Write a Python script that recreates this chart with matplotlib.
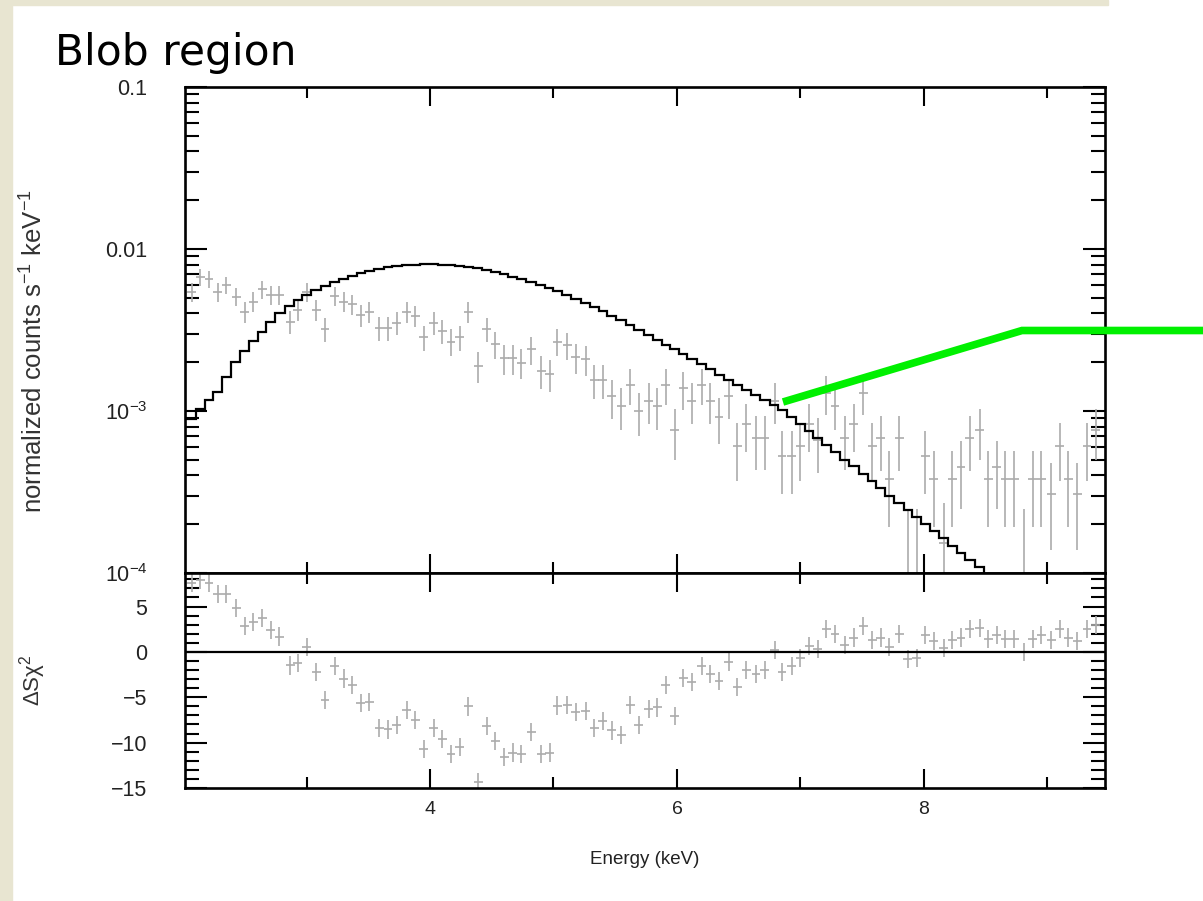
import numpy as np
import matplotlib.pyplot as plt
from matplotlib.lines import Line2D
from matplotlib.patches import Rectangle
from matplotlib.ticker import FixedLocator, FixedFormatter, MultipleLocator, LogLocator, NullFormatter

plt.rcParams['font.family'] = ['Liberation Sans', 'DejaVu Sans']
plt.rcParams['mathtext.fontset'] = 'custom'
plt.rcParams['mathtext.rm'] = 'Liberation Sans'
plt.rcParams['mathtext.it'] = 'Liberation Sans:italic'
plt.rcParams['mathtext.default'] = 'regular'

# bin centres (keV)
energy = [2.07, 2.14, 2.21, 2.28, 2.35, 2.43, 2.50, 2.57, 2.64, 2.71,
          2.78, 2.87, 2.93, 3.00, 3.08, 3.15, 3.23, 3.30, 3.37, 3.44,
          3.51, 3.59, 3.66, 3.73, 3.81, 3.88, 3.95, 4.03, 4.10, 4.17,
          4.24, 4.31, 4.39, 4.46, 4.53, 4.60, 4.67, 4.74, 4.82, 4.90,
          4.97, 5.03, 5.11, 5.18, 5.26, 5.33, 5.40, 5.47, 5.55, 5.62,
          5.69, 5.77, 5.84, 5.91, 5.98, 6.05, 6.12, 6.20, 6.27, 6.34,
          6.42, 6.49, 6.56, 6.64, 6.71, 6.79, 6.85, 6.93, 7.00, 7.07,
          7.14, 7.21, 7.28, 7.36, 7.43, 7.51, 7.58, 7.65, 7.72, 7.80,
          7.87, 7.94, 8.01, 8.08, 8.16, 8.23, 8.30, 8.37, 8.45, 8.52,
          8.59, 8.66, 8.73, 8.81, 8.88, 8.95, 9.03, 9.10, 9.17, 9.24,
          9.32, 9.39]

# normalized counts s^-1 keV^-1
counts = [5.45e-3, 6.75e-3, 6.50e-3, 5.45e-3, 6.00e-3, 5.08e-3, 4.10e-3, 4.73e-3, 5.64e-3, 5.20e-3,
          5.20e-3, 3.56e-3, 4.20e-3, 5.45e-3, 4.20e-3, 3.19e-3, 5.13e-3, 4.73e-3, 4.58e-3, 3.91e-3,
          4.10e-3, 3.27e-3, 3.27e-3, 3.51e-3, 4.10e-3, 3.86e-3, 2.85e-3, 3.51e-3, 3.13e-3, 2.68e-3,
          2.85e-3, 4.10e-3, 1.90e-3, 3.19e-3, 2.59e-3, 2.11e-3, 2.11e-3, 1.99e-3, 2.40e-3, 1.77e-3,
          1.69e-3, 2.68e-3, 2.56e-3, 2.15e-3, 2.08e-3, 1.55e-3, 1.55e-3, 1.23e-3, 1.07e-3, 1.45e-3,
          1.00e-3, 1.16e-3, 1.07e-3, 1.45e-3, 7.63e-4, 1.38e-3, 1.16e-3, 1.45e-3, 1.16e-3, 9.14e-4,
          1.23e-3, 6.08e-4, 8.31e-4, 6.84e-4, 6.84e-4, 1.16e-3, 5.30e-4, 5.30e-4, 6.08e-4, 8.31e-4,
          6.62e-4, 1.29e-3, 1.07e-3, 6.84e-4, 8.31e-4, 1.29e-3, 6.08e-4, 6.78e-4, 3.79e-4, 6.78e-4,
          4.0e-5, 5.0e-5, 5.28e-4, 3.79e-4, 1.53e-4, 3.79e-4, 4.53e-4, 6.78e-4, 7.63e-4, 3.79e-4,
          4.53e-4, 3.79e-4, 3.79e-4, 5.0e-5, 3.79e-4, 3.79e-4, 3.07e-4, 6.08e-4, 3.79e-4, 3.07e-4,
          6.08e-4, 7.63e-4]

# relative 1-sigma errors on counts
rel_err = [0.13, 0.12, 0.12, 0.13, 0.12, 0.13, 0.15, 0.14, 0.13, 0.13,
           0.13, 0.16, 0.15, 0.13, 0.15, 0.17, 0.13, 0.14, 0.14, 0.15,
           0.15, 0.17, 0.17, 0.16, 0.15, 0.15, 0.18, 0.16, 0.17, 0.19,
           0.18, 0.15, 0.22, 0.17, 0.19, 0.21, 0.21, 0.21, 0.20, 0.23,
           0.23, 0.19, 0.19, 0.21, 0.21, 0.24, 0.24, 0.27, 0.29, 0.25,
           0.30, 0.28, 0.29, 0.25, 0.35, 0.26, 0.28, 0.25, 0.28, 0.32,
           0.27, 0.39, 0.33, 0.37, 0.37, 0.28, 0.42, 0.42, 0.39, 0.33,
           0.37, 0.27, 0.29, 0.37, 0.33, 0.27, 0.39, 0.37, 0.49, 0.37,
           5.0, 4.0, 0.42, 0.49, 0.78, 0.49, 0.45, 0.37, 0.35, 0.49,
           0.45, 0.49, 0.49, 4.0, 0.49, 0.49, 0.55, 0.39, 0.49, 0.55,
           0.39, 0.35]

# folded model, one value per bin (first 90 bins, rest below 1e-4)
model = [8.93e-4, 1.029e-3, 1.169e-3, 1.310e-3, 1.622e-3, 2.007e-3, 2.347e-3, 2.705e-3, 3.074e-3, 3.543e-3,
         4.025e-3, 4.446e-3, 4.844e-3, 5.200e-3, 5.582e-3, 5.909e-3, 6.255e-3, 6.527e-3, 6.812e-3, 7.108e-3,
         7.313e-3, 7.523e-3, 7.742e-3, 7.853e-3, 7.965e-3, 8.02e-3, 8.04e-3, 8.04e-3, 8.02e-3, 7.965e-3,
         7.853e-3, 7.742e-3, 7.58e-3, 7.42e-3, 7.21e-3, 7.01e-3, 6.76e-3, 6.527e-3, 6.255e-3, 5.995e-3,
         5.745e-3, 5.505e-3, 5.200e-3, 4.913e-3, 4.642e-3, 4.385e-3, 4.143e-3, 3.885e-3, 3.645e-3, 3.395e-3,
         3.162e-3, 2.945e-3, 2.744e-3, 2.555e-3, 2.414e-3, 2.248e-3, 2.094e-3, 1.950e-3, 1.817e-3, 1.668e-3,
         1.553e-3, 1.447e-3, 1.348e-3, 1.256e-3, 1.169e-3, 1.089e-3, 1.014e-3, 9.18e-4, 8.31e-4, 7.52e-4,
         6.81e-4, 6.17e-4, 5.58e-4, 4.98e-4, 4.58e-4, 4.08e-4, 3.70e-4, 3.35e-4, 2.99e-4, 2.70e-4,
         2.45e-4, 2.22e-4, 2.01e-4, 1.82e-4, 1.64e-4, 1.47e-4, 1.33e-4, 1.20e-4, 1.09e-4, 9.7e-5]

# sign(data-model) * chi^2 contribution
resid = [7.57, 7.93, 7.64, 6.38, 6.38, 4.85, 2.86, 3.30, 3.77, 2.43,
         1.70, -1.49, -1.20, 0.51, -2.21, -5.29, -1.56, -2.93, -3.66, -5.65,
         -5.54, -8.37, -8.55, -8.01, -6.38, -7.47, -10.72, -8.37, -9.64, -11.27,
         -10.47, -6.01, -14.35, -8.19, -9.82, -11.56, -11.09, -11.27, -8.8, -11.27,
         -11.09, -5.91, -5.83, -6.63, -6.49, -8.37, -7.57, -8.66, -9.17, -5.83,
         -8.01, -6.27, -6.12, -3.66, -7.10, -2.86, -3.30, -1.56, -2.39, -3.22,
         -1.12, -3.84, -2.03, -2.39, -2.03, 0.25, -2.21, -1.56, -0.69, 0.62,
         0.33, 2.5, 1.96, 0.76, 1.59, 2.86, 1.30, 1.59, 0.51, 1.96,
         -0.76, -0.69, 1.85, 1.23, 0.4, 1.30, 1.59, 2.5, 2.68, 1.41,
         1.85, 1.41, 1.41, -0.04, 1.41, 1.85, 1.30, 2.5, 1.59, 1.23,
         2.5, 2.93]
resid_err = 1.0
half_bin = 0.036

y_ticks = [0.1, 0.01, 1e-3, 1e-4]
y_labels = ['0.1', '0.01', '$10^{-3}$', '$10^{-4}$']

# annotation arrow on the slide, in pixels
green_x = [783, 1022, 1203]
green_y = [402, 330.5, 330.5]

W, H = 1203, 901
fig = plt.figure(figsize=(W / 100, H / 100), dpi=100)

# slide background bands
fig.patches.append(Rectangle((0, 0), 12 / W, 1, transform=fig.transFigure,
                             color='#e8e5d1', zorder=0))
fig.patches.append(Rectangle((0, 1 - 5 / H), 1108 / W, 5 / H, transform=fig.transFigure,
                             color='#e8e5d1', zorder=0))

ax1 = fig.add_axes([185 / W, 1 - 573 / H, 920 / W, 486 / H])
ax2 = fig.add_axes([185 / W, 1 - 788 / H, 920 / W, 215 / H], sharex=ax1)

E = np.array(energy)
c = np.array(counts)
err = c * np.array(rel_err)
grey = '#ababab'

ax1.set_yscale('log', nonpositive='clip')
ax1.errorbar(E, c, yerr=err, xerr=half_bin, fmt='none', ecolor=grey, elinewidth=1.2)
me = E[:len(model)]
edges = np.concatenate([[2.0], (me[1:] + me[:-1]) / 2,
                        [me[-1] + (me[-1] - me[-2]) / 2]])
ax1.stairs(model, edges, baseline=None, color='black', lw=1.6, zorder=3)
ax1.set_ylim(1e-4, 0.1)
ax1.set_xlim(2.016, 9.466)

ax2.errorbar(E, resid, yerr=resid_err, xerr=half_bin, fmt='none', ecolor=grey, elinewidth=1.2)
ax2.axhline(0, color='black', lw=1.6)
ax2.set_ylim(-15.0, 8.7)

for ax in (ax1, ax2):
    for s in ax.spines.values():
        s.set_linewidth(1.9)
    ax.xaxis.set_major_locator(FixedLocator([4, 6, 8]))
    ax.xaxis.set_minor_locator(FixedLocator([3, 5, 7, 9]))
    ax.tick_params(which='both', direction='in', top=True, right=True, width=1.5,
                   labelcolor='#222222')
    ax.tick_params(axis='x', which='major', length=14, pad=9, labelsize=14)
    ax.tick_params(axis='x', which='minor', length=8)
    ax.tick_params(axis='y', which='major', length=16, pad=27, labelsize=15.5)
    ax.tick_params(axis='y', which='minor', length=10)

ax1.yaxis.set_major_locator(FixedLocator(y_ticks))
ax1.yaxis.set_major_formatter(FixedFormatter(y_labels))
ax1.yaxis.set_minor_locator(LogLocator(base=10, subs=np.arange(2, 10)))
ax1.yaxis.set_minor_formatter(NullFormatter())
ax1.tick_params(axis='x', labelbottom=False)

ax2.yaxis.set_major_locator(MultipleLocator(5))
ax2.yaxis.set_minor_locator(MultipleLocator(1))
ax2.set_xlabel('Energy (keV)', fontsize=13.5, color='#222222', labelpad=24)

fig.text(34 / W, 1 - 351 / H, 'normalized counts s$^{-1}$ keV$^{-1}$', rotation=90,
         ha='center', va='center', fontsize=18.5, color='#333333')
fig.text(33 / W, 1 - 680 / H, '$\\Delta$S$\\chi^2$', rotation=90,
         ha='center', va='center', fontsize=16, color='#333333')

fig.text(55 / W, 1 - 53 / H, 'Blob region', family='DejaVu Sans', fontsize=30.5,
         ha='left', va='center', color='black')

fig.add_artist(Line2D(np.array(green_x) / W, 1 - np.array(green_y) / H, transform=fig.transFigure,
                      color='#00f000', lw=5.5, solid_capstyle='butt', solid_joinstyle='miter',
                      zorder=10))

fig.savefig('out.png', dpi=100)
